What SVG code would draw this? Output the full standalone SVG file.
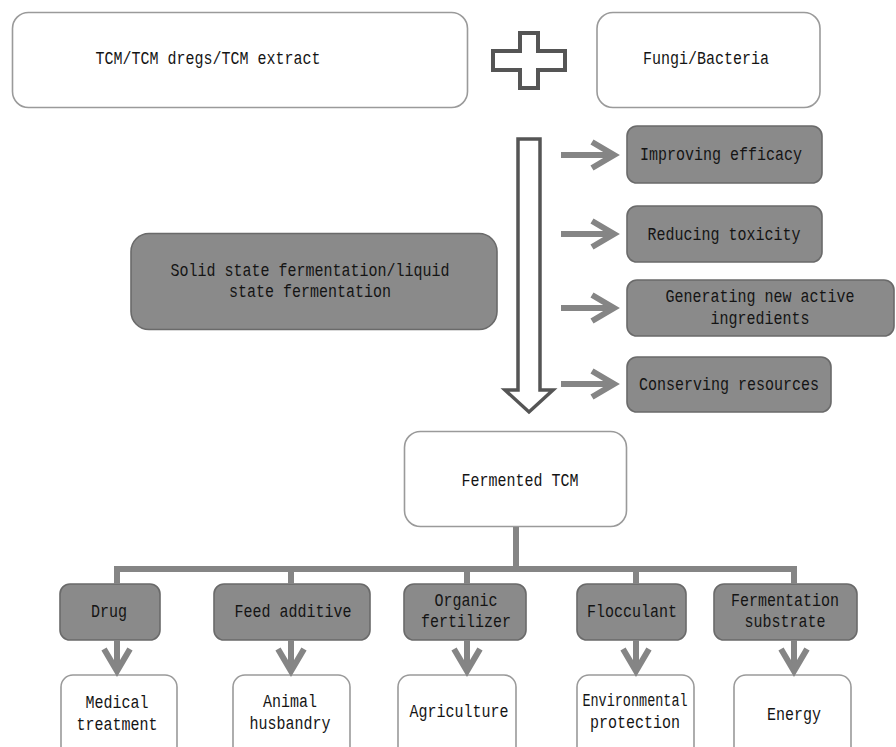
<svg xmlns="http://www.w3.org/2000/svg" width="896" height="747" viewBox="0 0 896 747">
<style>
.wb{fill:#ffffff;stroke:#9a9a9a;stroke-width:1.6}
.db{fill:#8a8a8a;stroke:#6a6a6a;stroke-width:1.6}
.t{font-family:"Liberation Mono","DejaVu Sans Mono",monospace;font-size:15px;fill:#141414;text-anchor:middle;dominant-baseline:central}
.s{font-size:13.5px}
.c{fill:none;stroke:#858585;stroke-width:6}
.ah{fill:none;stroke:#858585;stroke-width:6;stroke-linejoin:miter;stroke-linecap:butt}
</style>
<rect width="896" height="747" fill="#ffffff"/>
<g id="tcm"><rect class="wb" x="12.5" y="12.5" width="455" height="95" rx="16"/>
<text class="t" transform="translate(208,59) scale(1,1.25)">TCM/TCM dregs/TCM extract</text></g>
<g id="plus"><polygon points="520,33 538,33 538,51 565,51 565,70 538,70 538,88 520,88 520,70 493,70 493,51 520,51" fill="#ffffff" stroke="#555555" stroke-width="4"/></g>
<g id="fungi"><rect class="wb" x="597" y="12.5" width="223" height="95" rx="16"/>
<text class="t" transform="translate(706,59) scale(1,1.25)">Fungi/Bacteria</text></g>
<g id="process"><polygon points="518,139 540,139 540,390 553,390 529,412 505,390 518,390" fill="#ffffff" stroke="#555555" stroke-width="3.5"/></g>
<g id="ssf"><rect class="db" x="131" y="233.5" width="366" height="96" rx="18"/>
<text class="t" transform="translate(310,271) scale(1,1.25)">Solid state fermentation/liquid</text>
<text class="t" transform="translate(310,292) scale(1,1.25)">state fermentation</text></g>
<g id="eff1"><rect class="db" x="627" y="126" width="195" height="57" rx="10"/>
<text class="t" transform="translate(721,155) scale(1,1.25)">Improving efficacy</text></g>
<g id="eff2"><rect class="db" x="627" y="206" width="195" height="56" rx="10"/>
<text class="t" transform="translate(724,235) scale(1,1.25)">Reducing toxicity</text></g>
<g id="eff3"><rect class="db" x="627" y="280" width="267" height="56" rx="10"/>
<text class="t" transform="translate(760,297) scale(1,1.25)">Generating new active</text>
<text class="t" transform="translate(760,319) scale(1,1.25)">ingredients</text></g>
<g id="eff4"><rect class="db" x="627" y="357" width="204" height="55" rx="10"/>
<text class="t" transform="translate(729,385) scale(1,1.25)">Conserving resources</text></g>
<g id="fermented"><rect class="wb" x="404.5" y="431.5" width="222" height="95" rx="16"/>
<text class="t" transform="translate(520,481) scale(1,1.25)">Fermented TCM</text></g>
<g id="drug"><rect class="db" x="60" y="584" width="100" height="56" rx="10"/>
<text class="t" transform="translate(109,612) scale(1,1.25)">Drug</text></g>
<g id="feed"><rect class="db" x="214" y="584" width="156" height="56" rx="10"/>
<text class="t" transform="translate(293,612) scale(1,1.25)">Feed additive</text></g>
<g id="organic"><rect class="db" x="404" y="584" width="122" height="56" rx="10"/>
<text class="t" transform="translate(466,601) scale(1,1.25)">Organic</text>
<text class="t" transform="translate(466,622) scale(1,1.25)">fertilizer</text></g>
<g id="floc"><rect class="db" x="577" y="584" width="109" height="56" rx="10"/>
<text class="t" transform="translate(632,612) scale(1,1.25)">Flocculant</text></g>
<g id="substrate"><rect class="db" x="714" y="584" width="143" height="56" rx="10"/>
<text class="t" transform="translate(785,601) scale(1,1.25)">Fermentation</text>
<text class="t" transform="translate(785,622) scale(1,1.25)">substrate</text></g>
<g id="medical"><rect class="wb" x="61" y="675" width="116" height="90" rx="12"/>
<text class="t" transform="translate(117,703) scale(1,1.25)">Medical</text>
<text class="t" transform="translate(117,725) scale(1,1.25)">treatment</text></g>
<g id="animal"><rect class="wb" x="233" y="675" width="117" height="90" rx="12"/>
<text class="t" transform="translate(290,702) scale(1,1.25)">Animal</text>
<text class="t" transform="translate(290,724) scale(1,1.25)">husbandry</text></g>
<g id="agri"><rect class="wb" x="398" y="675" width="118" height="90" rx="12"/>
<text class="t" transform="translate(459,712) scale(1,1.25)">Agriculture</text></g>
<g id="env"><rect class="wb" x="577" y="675" width="117" height="90" rx="12"/>
<text class="t s" transform="translate(635,701) scale(1,1.35)">Environmental</text>
<text class="t" transform="translate(635,723) scale(1,1.25)">protection</text></g>
<g id="energy"><rect class="wb" x="734" y="675" width="117" height="90" rx="12"/>
<text class="t" transform="translate(794,715) scale(1,1.25)">Energy</text></g>
<g id="connectors">
<path class="c" d="M561,155H613M561,234H613M561,308H613M561,384H613"/>
<path class="ah" d="M592,142L614,155L592,168M592,221L614,234L592,247M592,295L614,308L592,321M592,371L614,384L592,397"/>
<path class="c" d="M516,527V569M114,569H797M117,566V584M291,566V584M467,566V584M636,566V584M794,566V584"/>
<path class="c" d="M117,640V670M291,640V670M467,640V670M636,640V670M794,640V670"/>
<path class="ah" d="M104,649L117,671L130,649M278,649L291,671L304,649M454,649L467,671L480,649M623,649L636,671L649,649M781,649L794,671L807,649"/>
</g>
</svg>
